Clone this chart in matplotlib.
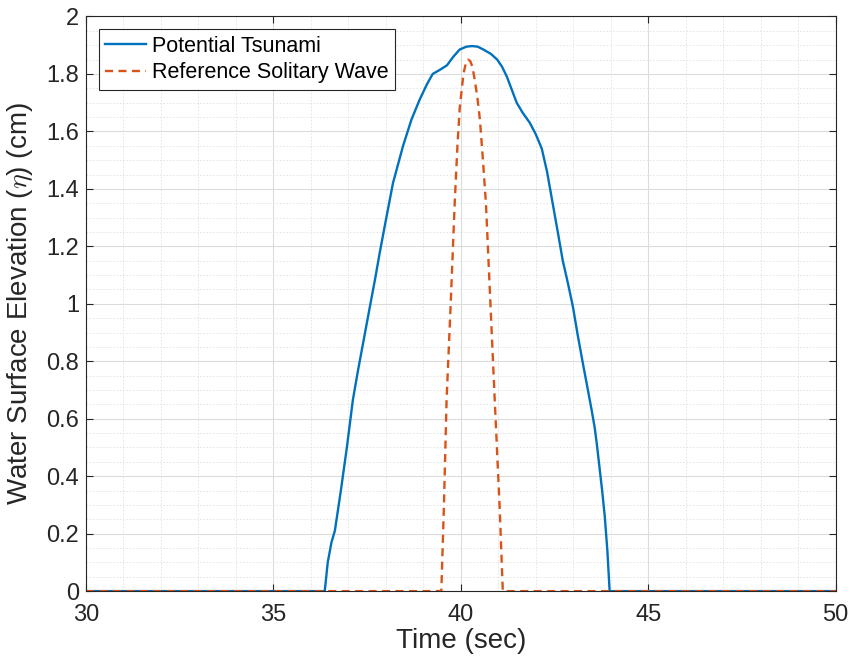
import numpy as np
import matplotlib.pyplot as plt
from matplotlib.ticker import MultipleLocator

plt.rcParams['font.family'] = ['Liberation Sans', 'DejaVu Sans']
plt.rcParams['mathtext.fontset'] = 'cm'

# Potential tsunami (time in sec, elevation in cm)
t_tsu = [30.0, 36.37, 36.45, 36.55, 36.64, 36.8, 36.96, 37.12, 37.26, 37.41,
         37.56, 37.71, 37.84, 37.97, 38.19, 38.46, 38.68, 38.9, 39.1, 39.25,
         39.45, 39.63, 39.8, 39.97, 40.15, 40.3, 40.45, 40.6, 40.8, 40.97,
         41.1, 41.23, 41.36, 41.49, 41.65, 41.84, 42.0, 42.16, 42.3, 42.45,
         42.6, 42.72, 42.86, 42.99, 43.12, 43.26, 43.39, 43.49, 43.57, 43.63,
         43.7, 43.77, 43.84, 43.91, 43.97, 50.0]
eta_tsu = [0.0, 0.0, 0.1, 0.17, 0.21, 0.35, 0.5, 0.665, 0.77, 0.875,
           0.98, 1.084, 1.18, 1.27, 1.42, 1.55, 1.64, 1.71, 1.765, 1.80,
           1.815, 1.83, 1.86, 1.885, 1.895, 1.897, 1.895, 1.885, 1.87, 1.85,
           1.825, 1.79, 1.745, 1.70, 1.665, 1.63, 1.59, 1.54, 1.46, 1.35,
           1.24, 1.15, 1.07, 0.99, 0.89, 0.79, 0.70, 0.63, 0.57, 0.51,
           0.43, 0.35, 0.26, 0.14, 0.0, 0.0]

# Reference solitary wave
t_sol = [30.0, 39.48, 39.55, 39.62, 39.73, 39.84, 39.91, 39.97, 40.07, 40.13,
         40.19, 40.25, 40.31, 40.37, 40.44, 40.51, 40.59, 40.67, 40.79, 40.91,
         40.98, 41.04, 41.12, 50.0]
eta_sol = [0.0, 0.0, 0.3, 0.665, 1.0, 1.36, 1.55, 1.68, 1.80, 1.835,
           1.85, 1.845, 1.825, 1.78, 1.72, 1.64, 1.5, 1.35, 1.0, 0.65,
           0.45, 0.28, 0.0, 0.0]

fig = plt.figure(figsize=(8.51, 6.59), dpi=100)
ax = fig.add_axes([0.101, 0.103, 0.881, 0.872])

ax.plot(t_tsu, eta_tsu, color='#0072BD', lw=1.7, label='Potential Tsunami')
ax.plot(t_sol, eta_sol, color='#D95319', lw=1.7, ls=(0, (3.4, 2.3)),
        label='Reference Solitary Wave')

ax.set_xlim(30, 50)
ax.set_ylim(0, 2)
ax.xaxis.set_major_locator(MultipleLocator(5))
ax.xaxis.set_minor_locator(MultipleLocator(1))
ax.yaxis.set_minor_locator(MultipleLocator(0.05))
ax.set_yticks(np.arange(0, 2.01, 0.2))
ax.set_yticklabels(['0', '0.2', '0.4', '0.6', '0.8', '1', '1.2', '1.4', '1.6', '1.8', '2'])

ax.grid(which='major', color='#dcdcdc', lw=0.8)
ax.grid(which='minor', color='#e2e2e2', lw=0.6, ls=(0, (2, 2)))
ax.set_axisbelow(True)
ax.tick_params(which='both', direction='in', top=True, right=True,
               colors='#262626', labelsize=17)
ax.tick_params(which='major', length=5)
ax.tick_params(which='minor', length=0)
ax.tick_params(axis='x', pad=9)
ax.tick_params(axis='y', pad=5)
for s in ax.spines.values():
    s.set_color('#262626')
    s.set_linewidth(0.8)

ax.set_xlabel('Time (sec)', fontsize=20, color='#262626', labelpad=2)
ax.set_ylabel(r'Water Surface Elevation ($\eta$) (cm)', fontsize=20,
              color='#262626', labelpad=8)

leg = ax.legend(loc='upper left', fontsize=15.5, fancybox=False, framealpha=1,
                edgecolor='#262626', borderaxespad=0.6, handlelength=1.9,
                handletextpad=0.25, borderpad=0.3, labelspacing=0.25)
leg.get_frame().set_linewidth(0.8)

fig.savefig('out.png', dpi=100)
